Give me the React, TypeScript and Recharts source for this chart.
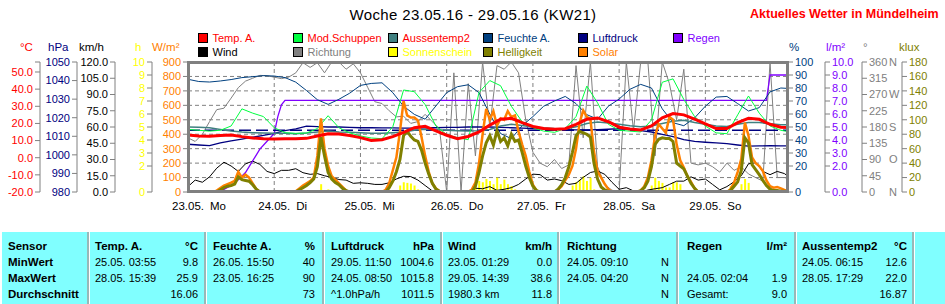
import React from "react";
import { Bar, CartesianGrid, ComposedChart, Line, ReferenceLine, XAxis, YAxis } from "recharts";

const FONT = '"Liberation Sans", Arial, sans-serif';

const dayTicks = [0, 24, 48, 72, 96, 120, 144];
const dayDates = ["23.05.", "24.05.", "25.05.", "26.05.", "27.05.", "28.05.", "29.05."];
const dayNames = ["Mo", "Di", "Mi", "Do", "Fr", "Sa", "So"];

// sampled every 3 h from 23.05. 00:00
const tempA = [
  13.2, 12.6, 12.5, 13.0, 13.3, 12.3, 11.5, 11.1, 10.9, 11.1, 11.1, 11.3, 12.7, 14.0,
  13.8, 13.0, 11.7, 10.0, 10.5, 12.3, 14.8, 17.5, 18.3, 15.6, 13.1, 11.1, 12.4, 15.0,
  19.0, 22.5, 23.0, 20.5, 18.2, 17.0, 16.6, 16.9, 19.5, 22.4, 23.2, 21.0, 17.8, 16.7,
  16.2, 18.5, 23.3, 25.8, 25.0, 22.5, 19.8, 17.0, 17.0, 20.5, 23.0, 22.4, 19.5, 17.8, 17.5,
];
const aussentemp2 = [
  17.9, 17.7, 17.5, 16.5, 15.6, 15.0, 14.6, 14.4, 14.2, 14.2, 14.0, 14.4, 15.0, 15.6,
  15.0, 14.8, 14.5, 14.2, 14.2, 14.6, 15.0, 16.0, 16.6, 16.3, 16.0, 15.8, 15.6, 15.8,
  16.5, 18.5, 19.5, 18.8, 17.9, 17.4, 17.0, 16.8, 18.0, 20.0, 20.8, 20.2, 19.5, 18.6,
  18.1, 18.5, 20.0, 21.2, 21.8, 20.5, 19.5, 18.5, 18.2, 19.5, 20.5, 20.5, 19.8, 19.3, 19.1,
];
const modSchuppen = [
  16.5, 16.0, 15.5, 16.0, 18.5, 28.5, 26.0, 24.0, 17.5, 14.6, 14.2, 14.4, 17.0, 24.5,
  17.5, 14.5, 12.7, 11.5, 11.1, 18.0, 39.5, 38.5, 31.0, 18.5, 13.5, 11.7, 10.5, 38.0,
  45.0, 42.0, 30.0, 21.0, 17.5, 15.5, 14.8, 17.0, 24.0, 41.8, 32.0, 19.5, 16.0, 15.5,
  15.0, 22.0, 44.0, 46.0, 34.0, 24.0, 18.5, 14.5, 14.0, 25.0, 36.0, 26.0, 18.5, 16.0, 14.8,
];
const feuchte = [
  86.7, 85.0, 84.6, 85.4, 86.5, 88.0, 88.7, 89.5, 89.2, 88.0, 84.5, 78.0, 71.0, 67.4,
  71.3, 76.0, 82.0, 83.5, 84.0, 76.4, 66.0, 59.7, 56.0, 66.2, 76.4, 81.0, 82.5, 76.4,
  60.0, 45.0, 41.0, 51.0, 58.0, 66.0, 70.0, 73.5, 68.0, 59.5, 56.0, 66.0, 71.5, 79.0,
  82.8, 80.0, 64.0, 53.3, 51.0, 57.0, 66.0, 73.0, 73.5, 68.0, 62.3, 64.9, 77.0, 80.0, 79.5,
];
const luftdruck = [
  1005.7, 1005.3, 1005.0, 1006.5, 1007.5, 1008.5, 1009.5, 1010.5, 1011.6, 1013.0, 1014.0, 1015.5, 1015.2, 1015.0,
  1015.0, 1014.8, 1014.6, 1014.6, 1014.5, 1014.5, 1014.4, 1014.4, 1014.6, 1014.6, 1014.8, 1014.8, 1015.0, 1015.0,
  1015.0, 1014.8, 1014.6, 1014.4, 1014.2, 1014.0, 1013.8, 1013.6, 1013.4, 1013.4, 1013.6, 1013.8, 1014.1, 1013.6,
  1013.0, 1012.3, 1011.0, 1009.8, 1008.2, 1007.3, 1006.8, 1006.4, 1006.0, 1005.3, 1004.7, 1004.8, 1004.9, 1004.8, 1004.8,
];
const tempAvg = 16.06;

// sampled every 2 h
const wind = [
  5, 11, 9, 14, 22, 27.5, 24, 19, 26, 28.5, 25.5, 19, 17, 20, 20, 21.5, 17.8, 16.3, 17, 15, 13.5,
  11.5, 11, 8, 8.5, 8, 7, 7, 8.5, 12, 14.5, 14.2, 11, 6, 1, 0, 0, 0, 0, 1, 3.5,
  3, 5, 1.5, 2.5, 4, 7, 12, 16.5, 16, 11, 12, 10.5, 7, 8, 13.5, 18, 19.4, 16.3, 9, 2.5,
  4, 1, 0, 1.8, 3, 4, 7, 10, 10, 14, 11, 12, 7, 2, 5, 9.5, 15, 26, 27, 19, 16, 19, 17, 12,
];
const richtung = [
  150, 140, 160, 195, 228, 232, 260, 289, 307, 315, 323, 322, 318, 314, 318, 330, 358, 345, 358, 330, 360,
  360, 340, 355, 330, 290, 250, 245, 225, 208, 210, 190, 195, 215, 195, 175, 0, 330, 0, 300, 100,
  360, 180, 350, 340, 360, 330, 200, 110, 80, 70, 90, 65, 75, 350, 150, 360, 70, 20, 5, 0,
  360, 170, 360, 360, 100, 360, 300, 200, 340, 80, 75, 80, 70, 55, 80, 60, 70, 50, 40, 30, 360, 40, 40, 35,
];

// [hour, value]
const regen = [
  [0, 0], [8, 0], [10, 0.2], [12, 0.5], [14, 0.95], [16, 1.5], [18, 2.4], [20, 3.3], [22, 3.9],
  [24, 4.5], [25, 5.8], [26, 6.7], [27, 7.05], [161, 7.05], [162, 9.0], [168, 9.0],
];
const solar = [
  [0, 0], [7, 0], [8, 10], [9, 28], [10, 45], [11, 55], [12, 65], [13, 78], [14, 140], [15, 100], [16, 120], [17, 100], [18, 60], [19, 20], [20, 0],
  [29, 0], [30, 5], [31, 25], [32, 45], [33, 60], [34, 75], [35, 100], [36, 250], [37, 510], [38, 300], [39, 180], [40, 110], [41, 85], [42, 60], [43, 35], [44, 10], [45, 0],
  [54, 0], [55, 15], [56, 60], [57, 150], [58, 240], [59, 420], [60, 630], [61, 530], [62, 515], [63, 515], [64, 495], [65, 380], [66, 250], [67, 140], [68, 60], [69, 25], [70, 5], [71, 0],
  [78, 0], [79, 18], [80, 65], [81, 200], [82, 400], [83, 575], [84, 500], [85, 560], [86, 460], [87, 510], [88, 500], [89, 560], [90, 520], [91, 530], [92, 420], [93, 330], [94, 250], [95, 140], [96, 50], [97, 10], [98, 0],
  [102, 0], [103, 15], [104, 40], [105, 80], [106, 120], [107, 180], [108, 300], [109, 480], [110, 565], [111, 520], [112, 505], [113, 280], [114, 140], [115, 100], [116, 55], [117, 20], [118, 0],
  [125, 0], [126, 10], [127, 40], [128, 100], [129, 220], [130, 390], [131, 470], [132, 440], [133, 410], [134, 520], [135, 500], [136, 330], [137, 220], [138, 170], [139, 110], [140, 70], [141, 25], [142, 0],
  [150, 0], [151, 20], [152, 65], [153, 140], [154, 230], [155, 480], [156, 390], [157, 240], [158, 200], [159, 180], [160, 145], [161, 80], [162, 40], [163, 30], [164, 35], [165, 25], [166, 15], [167, 7], [168, 3],
];
const helligkeit = [
  [0, 0], [8, 0], [9, 3], [10, 6], [11, 8], [12, 9], [13, 11], [14, 21], [15, 17], [16, 16], [17, 15], [18, 10], [19, 4], [20, 0],
  [30, 0], [31, 3], [32, 6], [33, 9], [34, 13], [35, 18], [36, 35], [37, 76], [38, 50], [39, 27], [40, 18], [41, 13], [42, 10], [43, 5], [44, 2], [45, 0],
  [55, 0], [56, 6], [57, 15], [58, 28], [59, 45], [60, 78], [61, 84], [62, 77], [63, 72], [64, 70], [65, 58], [66, 40], [67, 25], [68, 12], [69, 4], [70, 1], [71, 0],
  [79, 0], [80, 8], [81, 27], [82, 50], [83, 68], [84, 78], [85, 65], [86, 85], [87, 70], [88, 75], [89, 64], [90, 80], [91, 70], [92, 72], [93, 55], [94, 36], [95, 20], [96, 8], [97, 2], [98, 0],
  [102, 0], [103, 4], [104, 10], [105, 20], [106, 35], [107, 55], [108, 78], [109, 84], [110, 82], [111, 80], [112, 76], [113, 40], [114, 18], [115, 7], [116, 3], [117, 1], [118, 0],
  [125, 0], [126, 2], [127, 6], [128, 15], [129, 35], [130, 66], [131, 73], [132, 75], [133, 74], [134, 74], [135, 70], [136, 40], [137, 36], [138, 32], [139, 22], [140, 12], [141, 5], [142, 0],
  [150, 0], [151, 2], [152, 8], [153, 14], [154, 30], [155, 75], [156, 68], [157, 38], [158, 31], [159, 24], [160, 16], [161, 9], [162, 4], [163, 2], [164, 2], [165, 1], [166, 1], [167, 0], [168, 0],
];
const sonnenschein = [
  [37, 0.6], [39, 0.2],
  [59, 0.5], [60, 0.75], [61, 0.7], [62, 0.65], [63, 0.5], [64, 0.2],
  [80, 0.5], [81, 0.85], [82, 0.75], [83, 1.0], [84, 0.85], [85, 0.6], [86, 1.1], [87, 0.6], [88, 0.95], [89, 0.6], [90, 0.45], [91, 0.2],
  [107, 0.5], [108, 0.75], [109, 0.95], [110, 1.2], [111, 0.85], [112, 1.1], [113, 0.2],
  [129, 0.5], [130, 1.1], [131, 0.85], [132, 0.7], [133, 0.35], [134, 0.35], [135, 0.75], [136, 0.75], [137, 0.6],
  [151, 0.45], [154, 0.6], [155, 1.0], [156, 0.7],
];

// axis ticks
const tempTicks = [-20, -10, 0, 10, 20, 30, 40, 50, 55.83];
const hpaTicks = [980, 990, 1000, 1010, 1020, 1030, 1040, 1050];
const kmhTicks = [0, 15, 30, 45, 60, 75, 90, 105, 120];
const sunTicks = [0, 2, 3, 4, 5, 6, 7, 8, 9, 10];
const wmTicks = [0, 100, 200, 300, 400, 500, 600, 700, 800, 900];
const pctTicks = [0, 20, 30, 40, 50, 60, 70, 80, 90, 100];
const rainTicks = [0, 2, 3, 4, 5, 6, 7, 8, 9, 10];
const dirTicks = [0, 45, 90, 135, 180, 225, 270, 315, 360];
const dirLetters: Record<number, string> = { 0: "N", 90: "O", 180: "S", 270: "W", 360: "N" };
const kluxTicks = [0, 20, 40, 60, 80, 100, 120, 140, 160, 180];

// statistics table
const rowLabels = ["Sensor", "MinWert", "MaxWert", "Durchschnitt"];
const tableCols = [
  { name: "Temp. A.", unit: "°C", cells: [["25.05.  03:55", "9.8"], ["28.05.  15:39", "25.9"], ["", "16.06"]] },
  { name: "Feuchte A.", unit: "%", cells: [["26.05.  15:50", "40"], ["23.05.  16:25", "90"], ["", "73"]] },
  { name: "Luftdruck", unit: "hPa", cells: [["29.05.  11:50", "1004.6"], ["24.05.  08:50", "1015.8"], ["^1.0hPa/h", "1011.5"]] },
  { name: "Wind", unit: "km/h", cells: [["23.05.  01:29", "0.0"], ["29.05.  14:39", "38.6"], ["1980.3 km", "11.8"]] },
  { name: "Richtung", unit: "", cells: [["24.05.  09:10", "N"], ["24.05.  04:20", "N"], ["", "N"]] },
  { name: "Regen", unit: "l/m²", cells: [["", ""], ["24.05.  02:04", "1.9"], ["Gesamt:", "9.0"]] },
  { name: "Aussentemp2", unit: "°C", cells: [["24.05.  06:15", "12.6"], ["28.05.  17:29", "22.0"], ["", "16.87"]] },
];
const colLeft = [95, 213, 331, 448, 567, 687, 802];
const colRight = [198, 315, 434, 552, 669, 787, 907];
const colSeps = [88, 205, 323, 441, 558, 677, 795, 913];
const rowY = [250, 266, 282, 298];

const legendRows = [
  [
    { label: "Temp. A.", box: "#FF0000", text: "#FF0000" },
    { label: "Mod.Schuppen", box: "#00FF40", text: "#FF0000" },
    { label: "Aussentemp2", box: "#408080", text: "#FF0000" },
    { label: "Feuchte A.", box: "#004080", text: "#004080" },
    { label: "Luftdruck", box: "#000080", text: "#000080" },
    { label: "Regen", box: "#8000FF", text: "#8000FF" },
  ],
  [
    { label: "Wind", box: "#000000", text: "#000000" },
    { label: "Richtung", box: "#808080", text: "#808080" },
    { label: "Sonnenschein", box: "#FFFF00", text: "#FFFF00" },
    { label: "Helligkeit", box: "#808000", text: "#808000" },
    { label: "Solar", box: "#FF8000", text: "#FF8000" },
  ],
];
const legendX = [198, 293, 388, 483, 578, 673];

const axisHeads = [
  { t: "°C", x: 20, c: "#FF0000" },
  { t: "hPa", x: 48, c: "#000080" },
  { t: "km/h", x: 79, c: "#000000" },
  { t: "h", x: 135, c: "#FFFF00" },
  { t: "W/m²", x: 152, c: "#FF8000" },
  { t: "%", x: 789, c: "#004080" },
  { t: "l/m²", x: 826, c: "#8000FF" },
  { t: "°", x: 863, c: "#808080" },
  { t: "klux", x: 899, c: "#808000" },
];

type Row = { h: number; [k: string]: number };
const rows: Row[] = Array.from({ length: 169 }, (_, h) => ({ h }));
const every = (key: string, step: number, values: number[]) =>
  values.forEach((v, i) => {
    rows[i * step][key] = v;
  });
const pairs = (key: string, list: number[][]) =>
  list.forEach(([h, v]) => {
    rows[h][key] = v;
  });
every("tempA", 3, tempA);
every("aussentemp2", 3, aussentemp2);
every("modSchuppen", 3, modSchuppen);
every("feuchte", 3, feuchte);
every("luftdruck", 3, luftdruck);
every("wind", 2, wind);
every("richtung", 2, richtung);
pairs("regen", regen);
pairs("solar", solar);
pairs("helligkeit", helligkeit);
pairs("sonnenschein", sonnenschein);

// axis ids sort alphabetically: the first one of each side sits next to the plot
const ID = {
  solar: "a_solar",
  sun: "b_sun",
  wind: "c_wind",
  hpa: "d_hpa",
  temp: "e_temp",
  pct: "f_pct",
  rain: "g_rain",
  dir: "h_dir",
  klux: "i_klux",
};

const axisStyle = { stroke: "#808080", tickSize: 5, tickMargin: 2, interval: 0 as const, allowDataOverflow: true, type: "number" as const };

function DayTick({ x, index }: any) {
  return (
    <g>
      <text x={x} y={210} textAnchor="middle" fontSize={11.5} fill="#000">
        {dayDates[index] ?? ""}
      </text>
      <text x={x + 22} y={210} fontSize={11.5} fill="#000">
        {dayNames[index] ?? ""}
      </text>
    </g>
  );
}

function DirTick({ x, y, payload }: any) {
  const letter = dirLetters[payload.value];
  return (
    <g fontSize={11} fill="#808080">
      <text x={x} y={y} dy="0.355em">
        {payload.value}
      </text>
      {letter && (
        <text x={x + 20} y={y} dy="0.355em">
          {letter}
        </text>
      )}
    </g>
  );
}

const line = (dataKey: string, yAxisId: string, stroke: string, strokeWidth = 1) => (
  <Line
    key={dataKey}
    yAxisId={yAxisId}
    dataKey={dataKey}
    type="linear"
    stroke={stroke}
    strokeWidth={strokeWidth}
    dot={false}
    activeDot={false}
    connectNulls
    isAnimationActive={false}
  />
);

export default function App() {
  return (
    <div style={{ position: "absolute", left: 0, top: 0, width: 945, height: 304, background: "#fff", fontFamily: FONT, overflow: "hidden" }}>
      <ComposedChart width={945} height={304} data={rows} margin={{ top: 62, right: 0, bottom: 82, left: 0 }}>
        <CartesianGrid yAxisId={ID.solar} stroke="#808080" strokeDasharray="4 3" />
        <XAxis dataKey="h" type="number" domain={[0, 167]} ticks={dayTicks} interval={0} allowDataOverflow axisLine={false} tickLine={false} height={30} tick={<DayTick />} />

        <YAxis yAxisId={ID.solar} orientation="left" width={36} domain={[0, 900]} ticks={wmTicks} tick={{ fill: "#FF8000", fontSize: 11 }} {...axisStyle} />
        <YAxis yAxisId={ID.sun} orientation="left" width={37} domain={[0, 10]} ticks={sunTicks} tick={{ fill: "#FFFF00", fontSize: 11 }} {...axisStyle} />
        <YAxis yAxisId={ID.wind} orientation="left" width={38} domain={[0, 120]} ticks={kmhTicks} tickFormatter={(v: number) => v.toFixed(1)} tick={{ fill: "#000000", fontSize: 11 }} {...axisStyle} />
        <YAxis yAxisId={ID.hpa} orientation="left" width={37} domain={[980, 1050]} ticks={hpaTicks} tick={{ fill: "#000080", fontSize: 11 }} {...axisStyle} />
        <YAxis yAxisId={ID.temp} orientation="left" width={40} domain={[-20, 55.83]} ticks={tempTicks} tickFormatter={(v: number) => (v > 55 ? "" : v.toFixed(1))} tick={{ fill: "#FF0000", fontSize: 11 }} {...axisStyle} />

        <YAxis yAxisId={ID.pct} orientation="right" width={37} domain={[0, 100]} ticks={pctTicks} tick={{ fill: "#004080", fontSize: 11 }} {...axisStyle} />
        <YAxis yAxisId={ID.rain} orientation="right" width={37} domain={[0, 10]} ticks={rainTicks} tickFormatter={(v: number) => v.toFixed(1)} tick={{ fill: "#8000FF", fontSize: 11 }} {...axisStyle} />
        <YAxis yAxisId={ID.dir} orientation="right" width={40} domain={[0, 360]} ticks={dirTicks} tick={<DirTick />} {...axisStyle} />
        <YAxis yAxisId={ID.klux} orientation="right" width={43} domain={[0, 180]} ticks={kluxTicks} tick={{ fill: "#808000", fontSize: 11 }} {...axisStyle} />

        <Bar yAxisId={ID.sun} dataKey="sonnenschein" fill="#FFFF00" barSize={2} isAnimationActive={false} />
        {line("richtung", ID.dir, "#808080")}
        {line("wind", ID.wind, "#000000")}
        {line("regen", ID.rain, "#8000FF", 1.3)}
        {line("feuchte", ID.pct, "#004080")}
        {line("luftdruck", ID.hpa, "#000080", 1.3)}
        <ReferenceLine yAxisId={ID.temp} y={tempAvg} stroke="#000080" strokeWidth={1.5} strokeDasharray="12 5" />
        {line("aussentemp2", ID.temp, "#408080", 1.5)}
        {line("modSchuppen", ID.temp, "#00FF40")}
        {line("solar", ID.solar, "#FF8000", 2.5)}
        {line("helligkeit", ID.klux, "#808000", 3)}
        {line("tempA", ID.temp, "#FF0000", 3)}
      </ComposedChart>

      <svg width={945} height={304} style={{ position: "absolute", left: 0, top: 0, pointerEvents: "none" }} fontFamily={FONT}>
        <rect x={188.5} y={62.5} width={599} height={129} fill="none" stroke="#808080" strokeWidth={3} />

        <text x={473} y={20} textAnchor="middle" fontSize={15} letterSpacing={0.35} fill="#000">
          Woche 23.05.16 - 29.05.16 (KW21)
        </text>
        <text x={750} y={18} fontSize={12.5} fontWeight="bold" fill="#FF0000">
          Aktuelles Wetter in Mündelheim
        </text>

        {legendRows.map((items, r) =>
          items.map((it, i) => (
            <g key={it.label}>
              <rect x={legendX[i] + 0.5} y={33.5 + r * 14} width={9} height={9} fill={it.box} stroke="#000" strokeWidth={1} />
              <text x={legendX[i] + 14.5} y={42 + r * 14} fontSize={11} fill={it.text}>
                {it.label}
              </text>
            </g>
          ))
        )}

        {axisHeads.map((a) => (
          <text key={a.t + a.x} x={a.x} y={51} fontSize={11.5} fill={a.c}>
            {a.t}
          </text>
        ))}

        <rect x={2} y={232} width={943} height={72} fill="#80FFFF" />
        {colSeps.map((x) => (
          <g key={x}>
            <line x1={x} y1={232} x2={x} y2={304} stroke="#A0A0A0" strokeWidth={1.5} />
            <line x1={x + 1.5} y1={232} x2={x + 1.5} y2={304} stroke="#FFFFFF" strokeWidth={1} />
          </g>
        ))}
        {rowLabels.map((t, r) => (
          <text key={t} x={8} y={rowY[r]} fontSize={11.5} fontWeight="bold" fill="#000">
            {t}
          </text>
        ))}
        {tableCols.map((c, i) => (
          <g key={c.name} fill="#000" style={{ whiteSpace: "pre" }}>
            <text x={colLeft[i]} y={rowY[0]} fontSize={11.5} fontWeight="bold">
              {c.name}
            </text>
            <text x={colRight[i]} y={rowY[0]} fontSize={11.5} fontWeight="bold" textAnchor="end">
              {c.unit}
            </text>
            {c.cells.map((cell, r) => (
              <g key={r}>
                <text x={colLeft[i]} y={rowY[r + 1]} fontSize={11}>
                  {cell[0]}
                </text>
                <text x={colRight[i]} y={rowY[r + 1]} fontSize={11} textAnchor="end">
                  {cell[1]}
                </text>
              </g>
            ))}
          </g>
        ))}
      </svg>
    </div>
  );
}
